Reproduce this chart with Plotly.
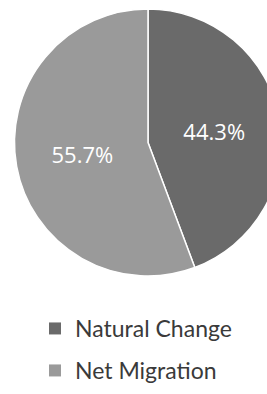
import plotly.graph_objects as go

labels = ["Natural Change", "Net Migration"]
values = [44.3, 55.7]
colors = ["#6a6a6a", "#9a9a9a"]

W, H = 296, 394

fig = go.Figure()
fig.add_trace(go.Pie(
    labels=labels,
    values=values,
    sort=False,
    direction="clockwise",
    rotation=0,
    marker=dict(colors=colors, line=dict(color="white", width=1.5)),
    texttemplate="%{percent:.1%}",
    textposition="inside",
    insidetextfont=dict(color="white", size=22, family="Open Sans"),
    domain=dict(x=[0, 1], y=[1 - 276/H, 1 - 9/H]),
    hoverinfo="skip",
    showlegend=False,
))
legend_names = ["legend", "legend2"]
for lab, col, lg in zip(labels, colors, legend_names):
    fig.add_trace(go.Scatter(
        x=[None], y=[None], mode="markers", name=lab,
        marker=dict(symbol="square", size=11, color=col),
        legend=lg, showlegend=True, hoverinfo="skip",
    ))
fig.update_xaxes(visible=False)
fig.update_yaxes(visible=False)
leg_style = dict(
    x=35/W, xanchor="left", yanchor="top",
    font=dict(size=23, family="Lato", color="#3a3a3a"),
    itemsizing="constant",
    bgcolor="rgba(0,0,0,0)",
)
fig.update_layout(
    width=W, height=H,
    margin=dict(l=0, r=0, t=0, b=0, autoexpand=False),
    paper_bgcolor="white",
    plot_bgcolor="white",
    showlegend=True,
    legend=dict(y=1 - 307/H, **leg_style),
    legend2=dict(y=1 - 349/H, **leg_style),
)
fig.write_html(
    "out.html",
    config={"displayModeBar": False},
    post_script="document.body.style.margin='0';document.body.style.overflow='hidden';",
)
